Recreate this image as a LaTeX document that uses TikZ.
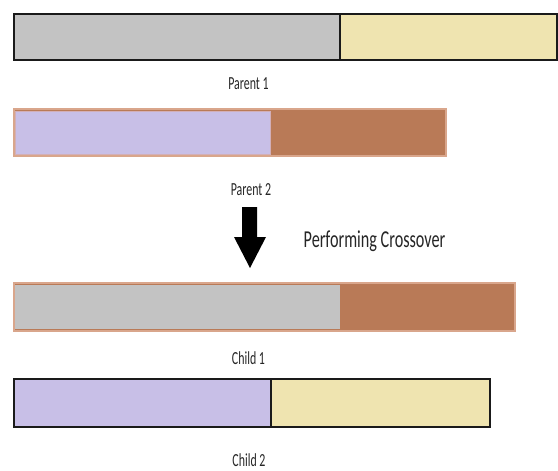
\documentclass[tikz,border=0pt]{standalone}
\usepackage{fontspec}
\usepackage{graphicx}
\setmainfont{Carlito}
\definecolor{cgray}{HTML}{C3C3C3}
\definecolor{cyellow}{HTML}{EFE4B0}
\definecolor{clav}{HTML}{C8BFE7}
\definecolor{cbrown}{HTML}{B97A57}
\definecolor{cbrownline}{HTML}{D9A68C}
\definecolor{clavline}{HTML}{D2AFB8}
\definecolor{cdark}{HTML}{1A1A1A}
\tikzset{
  blackbar/.style={draw=cdark, line width=2pt},
  brownbar/.style={draw=cbrownline, line width=1.6pt},
  lbl/.style={anchor=base, inner sep=0pt, text=black!85, font=\fontsize{11.9}{14}\selectfont},
  ttl/.style={anchor=base, inner sep=0pt, text=black!85, font=\fontsize{16.2}{19}\selectfont},
}
\begin{document}
\begin{tikzpicture}[x=1pt,y=-1pt]
\useasboundingbox (0,0) rectangle (558,471);
% Parent 1
\fill[cgray] (14,14) rectangle (340,60);
\fill[cyellow] (340,14) rectangle (557,60);
\draw[blackbar] (14,14) rectangle (557,60);
\draw[cdark, line width=1.4pt] (340,14) -- (340,60);
\node[lbl] (p1) at (248.5,89) {\scalebox{1}[1.55]{Parent 1}};
% Parent 2
\fill[cbrown] (14,109) rectangle (446,156);
\draw[brownbar] (14,109) rectangle (446,156);
\fill[clav] (15,111) rectangle (270,154);
\draw[clavline, line width=0.9pt] (15,111) rectangle (270,154);
\node[lbl] (p2) at (251,195) {\scalebox{1}[1.55]{Parent 2}};
% Arrow
\fill[black] (242,207) -- (257,207) -- (257,237) -- (266,237) -- (250,268) -- (234,237) -- (242,237) -- cycle;
\node[ttl] (pc) at (374.5,247) {\scalebox{1}[1.5]{Performing Crossover}};
% Child 1
\fill[cbrown] (14,283) rectangle (515,331);
\draw[brownbar] (14,283) rectangle (515,331);
\fill[cgray] (15,285) rectangle (340,329);
\node[lbl] (c1) at (248.5,364) {\scalebox{1}[1.55]{Child 1}};
% Child 2
\fill[clav] (14,379) rectangle (271,427);
\fill[cyellow] (271,379) rectangle (490,427);
\draw[blackbar] (14,379) rectangle (490,427);
\draw[cdark, line width=1.4pt] (271,379) -- (271,427);
\node[lbl] (c2) at (249,466) {\scalebox{1}[1.55]{Child 2}};
\end{tikzpicture}
\end{document}
